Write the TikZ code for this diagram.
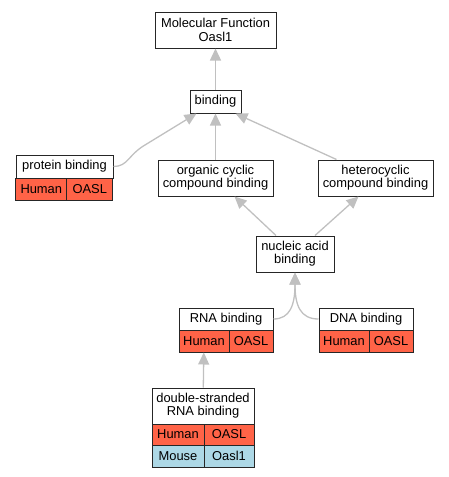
\documentclass[tikz,border=0pt]{standalone}
\usepackage{fontspec}
\setmainfont{Liberation Sans}
\usetikzlibrary{arrows.meta}
\definecolor{human}{HTML}{FF6347}
\definecolor{mouse}{HTML}{ADD8E6}
\definecolor{edgegray}{HTML}{C0C0C0}

\begin{document}
\begin{tikzpicture}[x=1pt,y=-1pt,
   box/.style = {draw=black!85, line width=1pt, fill=white, inner sep=0pt, align=center,
                 font=\fontsize{12.9}{13.3}\selectfont},
   cell/.style = {box, minimum height=22pt},
   edge/.style = {draw=edgegray, line width=1.3pt, -{Triangle[length=12pt,width=11pt]}}]
   \useasboundingbox (0,0) rectangle (449,477);
   \node[box, minimum width=121pt, minimum height=36pt] (mf) at (215.5,30) {Molecular Function\\Oasl1};
   \node[box, minimum width=51pt, minimum height=23pt] (bind) at (215.5,101.5) {binding};
   \node[box, minimum width=97pt, minimum height=23pt] (prot) at (64.5,166.5) {protein binding};
   \node[cell, fill=human, minimum width=50.7pt] (protH) at (41.3,189) {Human};
   \node[cell, fill=human, minimum width=46.3pt] (protO) at (89.8,189) {OASL};
   \node[box, minimum width=115pt, minimum height=36pt] (org) at (215.5,178) {organic cyclic\\compound binding};
   \node[box, minimum width=115pt, minimum height=36pt] (het) at (375.5,178) {heterocyclic\\compound binding};
   \node[box, minimum width=78pt, minimum height=36pt] (nuc) at (295,254) {nucleic acid\\binding};
   \node[cell, minimum width=94pt] (rna) at (226,319) {RNA binding};
   \node[cell, fill=human, minimum width=50pt] (rnaH) at (204,341) {Human};
   \node[cell, fill=human, minimum width=44pt] (rnaO) at (251,341) {OASL};
   \node[cell, minimum width=94pt] (dna) at (366,319) {DNA binding};
   \node[cell, fill=human, minimum width=50pt] (dnaH) at (344,341) {Human};
   \node[cell, fill=human, minimum width=44pt] (dnaO) at (391,341) {OASL};
   \node[box, minimum width=102pt, minimum height=36pt] (ds) at (203,406) {double-stranded\\RNA binding};
   \node[cell, fill=human, minimum width=52pt, minimum height=21pt] (dsH) at (178,434.5) {Human};
   \node[cell, fill=human, minimum width=50pt, minimum height=21pt] (dsO) at (229,434.5) {OASL};
   \node[cell, fill=mouse, minimum width=52pt] (dsM) at (178,456) {Mouse};
   \node[cell, fill=mouse, minimum width=50pt] (dsG) at (229,456) {Oasl1};
   \draw[edge] (bind) -- (mf);
   \draw[edge] (prot.east) .. controls (128,166.5) and (128,155) .. (145,145) -- ([xshift=-19]bind.south);
   \draw[edge] (org) -- (bind);
   \draw[edge] ([xshift=-39]het.north) -- ([xshift=20]bind.south);
   \draw[edge] ([xshift=-19]nuc.north) -- ([xshift=19]org.south);
   \draw[edge] ([xshift=20]nuc.north) -- ([xshift=-17]het.south);
   \draw[edge] (rna.east) .. controls (290,319) and (295,305) .. (nuc.south);
   \draw[edge] (dna.west) .. controls (300,319) and (295,305) .. (nuc.south);
   \draw[edge] (ds) -- (rnaH);
\end{tikzpicture}
\end{document}
